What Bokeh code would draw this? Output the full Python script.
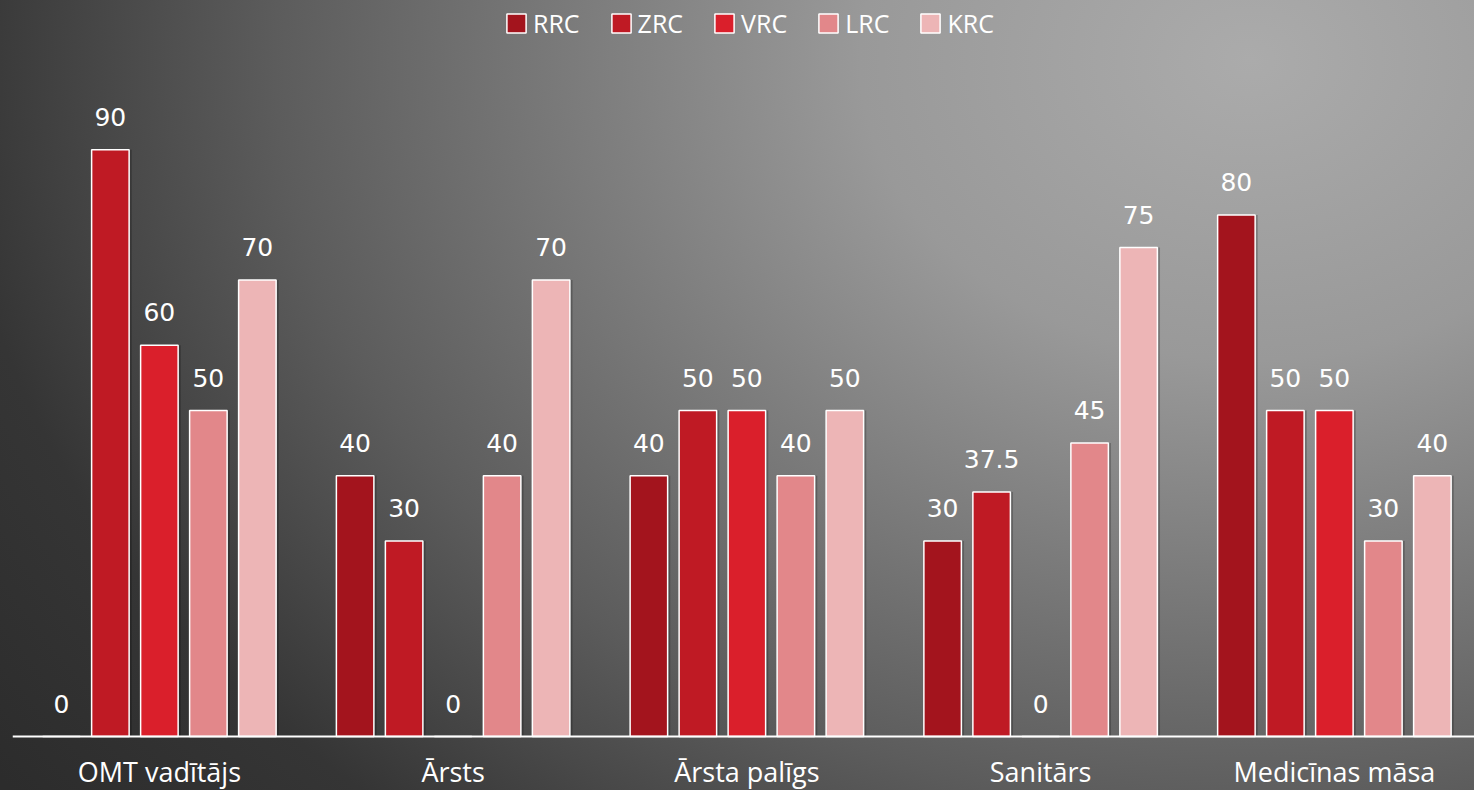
from bokeh.plotting import figure
from bokeh.models import ColumnDataSource, Range1d, LabelSet
from bokeh.transform import dodge
from bokeh.core.properties import value
from bokeh.embed import file_html
from bokeh.resources import INLINE

categories = ["OMT vadītājs", "Ārsts", "Ārsta palīgs", "Sanitārs", "Medicīnas māsa"]
series = ["RRC", "ZRC", "VRC", "LRC", "KRC"]
RRC = [0, 40, 40, 30, 80]
ZRC = [90, 30, 50, 37.5, 50]
VRC = [60, 0, 50, 0, 50]
LRC = [50, 40, 40, 45, 30]
KRC = [70, 70, 50, 75, 40]
colors = ["#A3141D", "#BF1A24", "#DA1F2B", "#E2878A", "#EDB5B6"]

values = {"RRC": RRC, "ZRC": ZRC, "VRC": VRC, "LRC": LRC, "KRC": KRC}

data = {"x": list(range(len(categories)))}
for s in series:
    data[s] = values[s]
    data[s + "_t"] = [f"{v:g}" for v in values[s]]
src = ColumnDataSource(data)

W, H = 1474, 790
scale = 6.52  # px per unit
p = figure(width=W, height=H, output_backend="svg", toolbar_location=None,
           x_range=Range1d(-0.5, 4.477), y_range=Range1d(-54 / scale, 736 / scale),
           y_axis_location=None,
           min_border_left=12, min_border_right=0, min_border_top=0, min_border_bottom=0)
p.background_fill_color = None
p.border_fill_color = None
p.outline_line_color = None
p.grid.visible = False
p.styles = {
    "background": "radial-gradient(1300px 1000px at 1250px 60px, #ababab 0%, #999999 30%, #5c5c5c 75%, #353535 100%, #2c2c2c 120%)",
}

step = 0.1668
bw = 0.1277
shadow_dx = 0.009
for i, s in enumerate(series):
    off = (i - 2) * step
    p.vbar(x=dodge("x", off + shadow_dx), top=s, width=bw, bottom=0, source=src,
           fill_color="black", fill_alpha=0.22, line_color=None)
    p.vbar(x=dodge("x", off), top=s, width=bw, bottom=0, source=src,
           fill_color=colors[i], line_color="white", line_width=1.5,
           legend_label=s)
    lbl = LabelSet(x=dodge("x", off), y=s, text=s + "_t", source=src,
                   text_align="center", text_baseline="middle", y_offset=33,
                   text_color="white", text_font=value("DejaVu Sans"),
                   text_font_size=value("25px"))
    p.add_layout(lbl)

ax = p.xaxis[0]
ax.fixed_location = 0
ax.ticker = list(range(len(categories)))
ax.major_label_overrides = {i: c for i, c in enumerate(categories)}
ax.axis_line_color = "white"
ax.axis_line_width = 2
ax.major_tick_line_color = None
ax.minor_tick_line_color = None
ax.major_tick_out = 0
ax.major_tick_in = 0
ax.axis_label_standoff = 0
ax.major_label_text_color = "white"
ax.major_label_text_font = "Open Sans"
ax.major_label_text_font_size = "27px"
ax.major_label_standoff = 16

lg = p.legend[0]
lg.location = (486, 744)
lg.orientation = "horizontal"
lg.margin = 0
lg.padding = 6
lg.spacing = 29
lg.glyph_width = 24
lg.glyph_height = 24
lg.label_standoff = 5
lg.label_text_color = "white"
lg.label_text_font = "Open Sans"
lg.label_text_font_size = "25px"
lg.background_fill_alpha = 0
lg.border_line_alpha = 0

open("out.html", "w").write(file_html(p, INLINE))
